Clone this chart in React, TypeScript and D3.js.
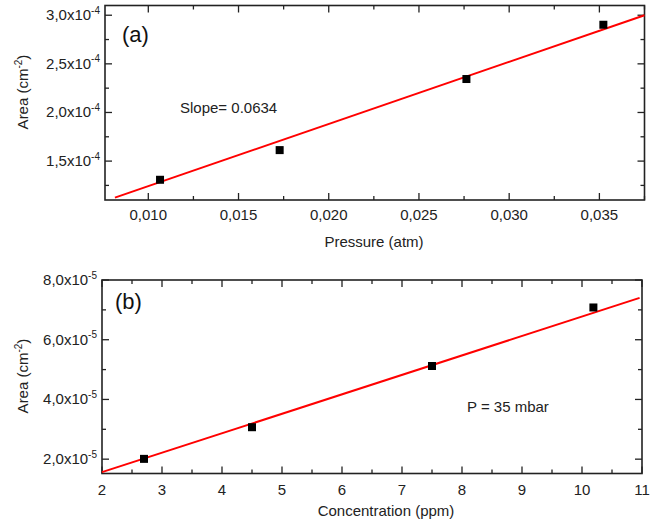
import React from "react";
import * as d3 from "d3";

// Panel (a)
const pressure = [0.01065, 0.01728, 0.02763, 0.03522];
const areaA = [1.308e-4, 1.613e-4, 2.344e-4, 2.902e-4];
const fitAx = [0.00815, 0.0375];
const fitAy = [1.124e-4, 3.0e-4];
const xTicksA = [0.01, 0.015, 0.02, 0.025, 0.03, 0.035];
const xTickLabelsA = ["0,010", "0,015", "0,020", "0,025", "0,030", "0,035"];
const xMinorA = [0.0075, 0.0125, 0.0175, 0.0225, 0.0275, 0.0325, 0.0375];
const yTicksA = [1.5e-4, 2.0e-4, 2.5e-4, 3.0e-4];
const yTickLabelsA = ["1,5x10", "2,0x10", "2,5x10", "3,0x10"];
const yMinorA = [1.25e-4, 1.75e-4, 2.25e-4, 2.75e-4];

// Panel (b)
const concentration = [2.7, 4.5, 7.5, 10.19];
const areaB = [2.01e-5, 3.07e-5, 5.12e-5, 7.08e-5];
const fitBx = [2, 10.96];
const fitBy = [1.565e-5, 7.4e-5];
const xTicksB = [2, 3, 4, 5, 6, 7, 8, 9, 10, 11];
const xTickLabelsB = ["2", "3", "4", "5", "6", "7", "8", "9", "10", "11"];
const xMinorB = [2.5, 3.5, 4.5, 5.5, 6.5, 7.5, 8.5, 9.5, 10.5];
const yTicksB = [2e-5, 4e-5, 6e-5, 8e-5];
const yTickLabelsB = ["2,0x10", "4,0x10", "6,0x10", "8,0x10"];
const yMinorB = [3e-5, 5e-5, 7e-5];

const FONT = "Liberation Sans, Arial, sans-serif";
const AXIS = "#222";
const FS = 15;

type PanelProps = {
  left: number; right: number; top: number; bottom: number;
  xDomain: [number, number]; yDomain: [number, number];
  xs: number[]; ys: number[]; fitX: number[]; fitY: number[];
  xTicks: number[]; xTickLabels: string[]; xMinor: number[];
  yTicks: number[]; yTickLabels: string[]; yMinor: number[]; yExp: string;
  xLabel: string; xLabelX: number; xLabelY: number; xTickY: number;
  yLabelY: number;
  panelLabel: string; panelLabelX: number; panelLabelY: number;
  note: string; noteX: number; noteY: number;
};

function Panel(p: PanelProps) {
  const x = d3.scaleLinear().domain(p.xDomain).range([p.left, p.right]);
  const y = d3.scaleLinear().domain(p.yDomain).range([p.bottom, p.top]);
  const line = d3.line<[number, number]>().x((d) => x(d[0])).y((d) => y(d[1]));
  const fitPts: [number, number][] = p.fitX.map((v, i) => [v, p.fitY[i]]);
  const major = 7, minor = 4;
  const inX = (v: number) => v >= p.xDomain[0] - 1e-12 && v <= p.xDomain[1] + 1e-12;
  const inY = (v: number) => v >= p.yDomain[0] - 1e-12 && v <= p.yDomain[1] + 1e-12;
  return (
    <g>
      {p.xTicks.filter(inX).map((t, i) => (
        <g key={"xt" + i}>
          <line x1={x(t)} x2={x(t)} y1={p.bottom} y2={p.bottom - major} stroke={AXIS} strokeWidth={1.3} />
          <line x1={x(t)} x2={x(t)} y1={p.top} y2={p.top + major} stroke={AXIS} strokeWidth={1.3} />
        </g>
      ))}
      {p.xMinor.filter(inX).map((t, i) => (
        <g key={"xm" + i}>
          <line x1={x(t)} x2={x(t)} y1={p.bottom} y2={p.bottom - minor} stroke={AXIS} strokeWidth={1.3} />
          <line x1={x(t)} x2={x(t)} y1={p.top} y2={p.top + minor} stroke={AXIS} strokeWidth={1.3} />
        </g>
      ))}
      {p.yTicks.filter(inY).map((t, i) => (
        <g key={"yt" + i}>
          <line x1={p.left} x2={p.left + major} y1={y(t)} y2={y(t)} stroke={AXIS} strokeWidth={1.3} />
          <line x1={p.right} x2={p.right - major} y1={y(t)} y2={y(t)} stroke={AXIS} strokeWidth={1.3} />
        </g>
      ))}
      {p.yMinor.filter(inY).map((t, i) => (
        <g key={"ym" + i}>
          <line x1={p.left} x2={p.left + minor} y1={y(t)} y2={y(t)} stroke={AXIS} strokeWidth={1.3} />
          <line x1={p.right} x2={p.right - minor} y1={y(t)} y2={y(t)} stroke={AXIS} strokeWidth={1.3} />
        </g>
      ))}
      <rect x={p.left} y={p.top} width={p.right - p.left} height={p.bottom - p.top} fill="none" stroke={AXIS} strokeWidth={1.6} />
      {p.xTicks.map((t, i) => (
        <text key={"xl" + i} x={x(t)} y={p.xTickY} textAnchor="middle" fontSize={FS} fontFamily={FONT} fill="#222">
          {p.xTickLabels[i]}
        </text>
      ))}
      {p.yTicks.map((t, i) => (
        <text key={"yl" + i} x={p.left - 5} y={y(t) + 5} textAnchor="end" fontSize={FS} fontFamily={FONT} fill="#222">
          {p.yTickLabels[i]}
          <tspan dy={-6.5} fontSize={10}>{p.yExp}</tspan>
        </text>
      ))}
      <path d={line(fitPts) || ""} fill="none" stroke="#ff0000" strokeWidth={2} />
      {p.xs.map((v, i) => (
        <rect key={"pt" + i} x={x(v) - 4} y={y(p.ys[i]) - 4} width={8} height={8} fill="#000" />
      ))}
      <text x={p.xLabelX} y={p.xLabelY} textAnchor="middle" fontSize={FS} fontFamily={FONT} fill="#222">{p.xLabel}</text>
      <text transform={`translate(28,${p.yLabelY}) rotate(-90)`} textAnchor="middle" fontSize={FS} fontFamily={FONT} fill="#222">
        Area (cm<tspan dy={-6.5} fontSize={10}>-2</tspan><tspan dy={6.5}>)</tspan>
      </text>
      <text x={p.panelLabelX} y={p.panelLabelY} fontSize={22} fontFamily={FONT} fill="#111">{p.panelLabel}</text>
      <text x={p.noteX} y={p.noteY} fontSize={FS} fontFamily={FONT} fill="#222">{p.note}</text>
    </g>
  );
}

export default function App() {
  return (
    <svg width={657} height={521} style={{ position: "absolute", left: 0, top: 0, background: "#fff" }}>
      <rect width={657} height={521} fill="#fff" />
      <Panel
        left={105} right={644.5} top={5.5} bottom={200}
        xDomain={[0.0076, 0.0375]} yDomain={[1.1e-4, 3.1e-4]}
        xs={pressure} ys={areaA} fitX={fitAx} fitY={fitAy}
        xTicks={xTicksA} xTickLabels={xTickLabelsA} xMinor={xMinorA}
        yTicks={yTicksA} yTickLabels={yTickLabelsA} yMinor={yMinorA} yExp="-4"
        xLabel="Pressure (atm)" xLabelX={374} xLabelY={247} xTickY={220}
        yLabelY={92}
        panelLabel="(a)" panelLabelX={122} panelLabelY={42}
        note="Slope= 0.0634" noteX={180} noteY={113}
      />
      <Panel
        left={102} right={642} top={280} bottom={473.5}
        xDomain={[2, 11]} yDomain={[1.52e-5, 8.0e-5]}
        xs={concentration} ys={areaB} fitX={fitBx} fitY={fitBy}
        xTicks={xTicksB} xTickLabels={xTickLabelsB} xMinor={xMinorB}
        yTicks={yTicksB} yTickLabels={yTickLabelsB} yMinor={yMinorB} yExp="-5"
        xLabel="Concentration (ppm)" xLabelX={386} xLabelY={516} xTickY={495}
        yLabelY={376}
        panelLabel="(b)" panelLabelX={115} panelLabelY={309}
        note="P = 35 mbar" noteX={467} noteY={412}
      />
    </svg>
  );
}
